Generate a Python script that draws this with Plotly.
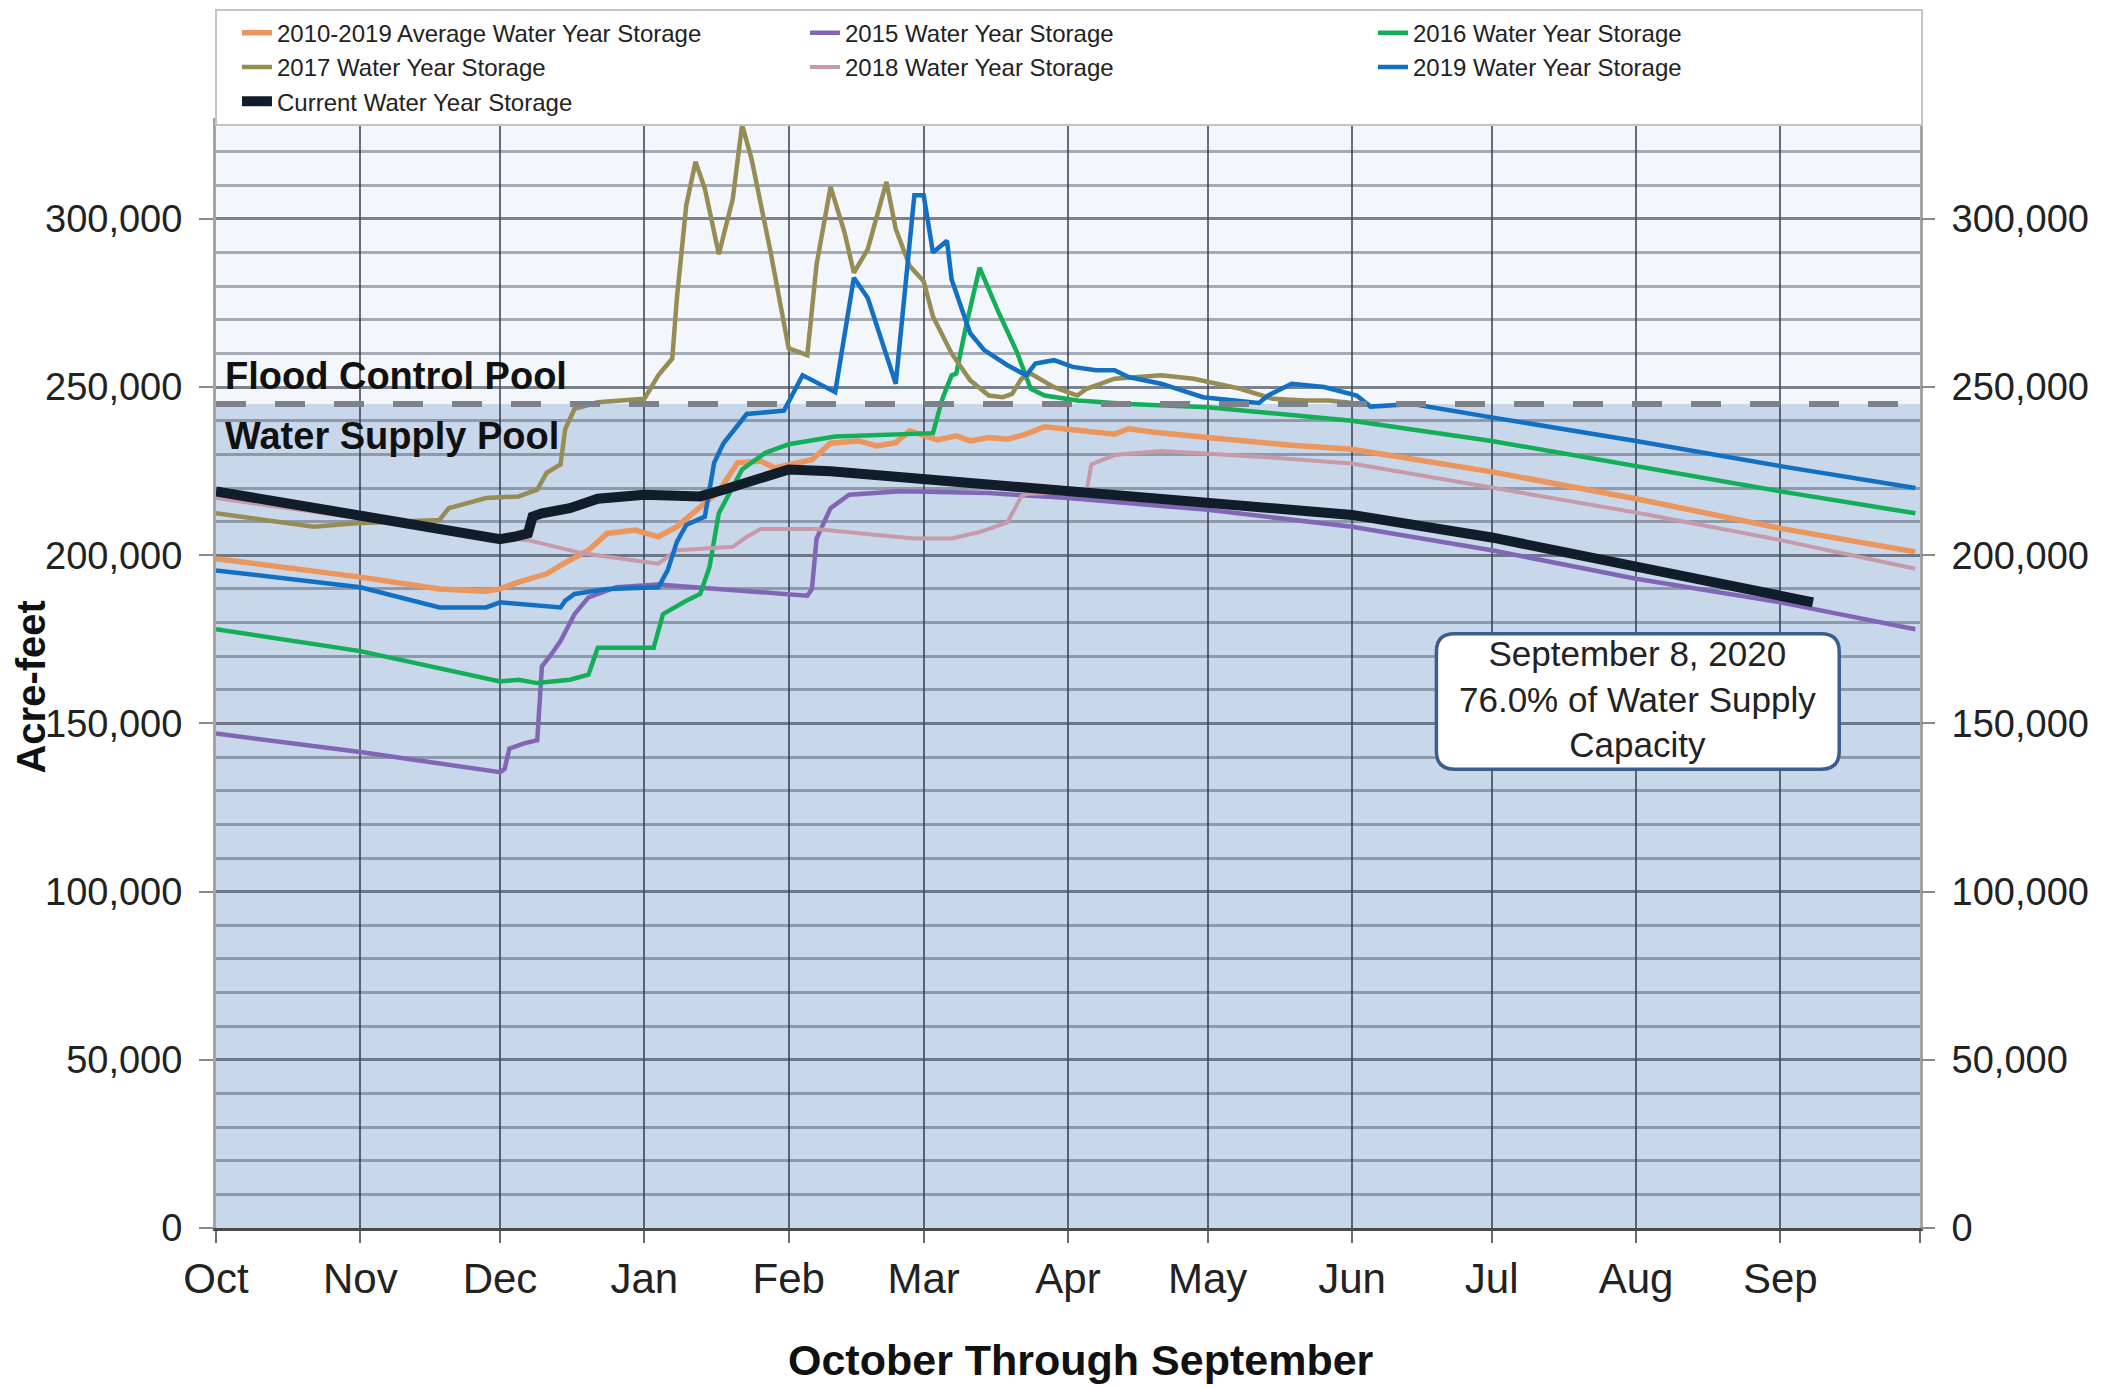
import plotly.graph_objects as go

# ---------------- data (water year Oct 2019 - Sep 2020) ----------------
month_ticks = ["10-01", "11-01", "12-01", "01-01", "02-01", "03-01", "04-01",
               "05-01", "06-01", "07-01", "08-01", "09-01", "10-01"]
month_labels = ["Oct", "Nov", "Dec", "Jan", "Feb", "Mar", "Apr", "May", "Jun",
                "Jul", "Aug", "Sep", ""]
y_ticks = [0, 50000, 100000, 150000, 200000, 250000, 300000]

flood_pool_level = 245000

avg_dates = ["10-01", "11-01", "11-18", "11-28", "12-01", "12-05", "12-11", "12-14",
             "12-20", "12-24", "12-30", "01-04", "01-08", "01-13", "01-17", "01-21",
             "01-26", "01-29", "02-06", "02-10", "02-16", "02-20", "02-24", "02-27",
             "03-04", "03-08", "03-11", "03-15", "03-19", "03-23", "03-27", "04-01",
             "04-07", "04-11", "04-14", "04-20", "05-01", "05-19", "06-01", "07-01",
             "08-01", "09-01", "09-30"]
avg_vals = [199000, 193500, 190000, 189300, 190000, 192000, 194500, 197000,
            201500, 206500, 207500, 205500, 208500, 214500, 219000, 227500,
            228000, 226000, 228400, 233300, 234000, 232500, 233500, 237000,
            234300, 235500, 234000, 235000, 234500, 236000, 238200, 237500,
            236500, 236000, 237600, 236500, 235000, 232700, 231500, 224800,
            216800, 208000, 201000]

y2015_dates = ["10-01", "11-01", "12-01", "12-02", "12-03", "12-06", "12-09", "12-10",
               "12-12", "12-14", "12-17", "12-20", "12-26", "01-04", "02-05", "02-06",
               "02-07", "02-10", "02-14", "02-25", "03-15", "04-01", "05-01", "06-01",
               "07-01", "08-01", "09-01", "09-30"]
y2015_vals = [147000, 141500, 135500, 136500, 142500, 144000, 145000, 167000,
              170500, 174500, 182500, 187500, 190500, 191300, 188000, 190000,
              205000, 214000, 218000, 219000, 218500, 217000, 213500, 208500,
              201500, 193000, 186000, 178000]

y2016_dates = ["10-01", "11-01", "12-01", "12-05", "12-09", "12-16", "12-20", "12-22",
               "01-03", "01-05", "01-10", "01-13", "01-15", "01-17", "01-22", "01-27",
               "02-01", "02-11", "03-03", "03-05", "03-07", "03-08", "03-10", "03-13",
               "03-17", "03-21", "03-24", "03-27", "04-03", "04-14", "05-01", "06-01",
               "07-01", "08-01", "09-01", "09-30"]
y2016_vals = [178000, 171500, 162500, 163000, 162000, 163000, 164500, 172500,
              172500, 182500, 186500, 188500, 196500, 212500, 225500, 230500,
              233000, 235300, 236300, 246500, 253500, 254000, 267500, 285500,
              272500, 260500, 249500, 247500, 246000, 245000, 244000, 240000,
              234000, 226500, 219000, 212500]

y2017_dates = ["10-01", "10-22", "10-31", "11-10", "11-18", "11-20", "11-28", "12-05",
               "12-09", "12-11", "12-14", "12-15", "12-17", "12-22", "01-01", "01-04",
               "01-07", "01-08", "01-10", "01-12", "01-14", "01-17", "01-20", "01-22",
               "01-24", "01-28", "02-01", "02-05", "02-07", "02-10", "02-13", "02-15",
               "02-18", "02-22", "02-24", "02-27", "03-01", "03-03", "03-07", "03-11",
               "03-15", "03-18", "03-20", "03-22", "03-24", "03-29", "04-03", "04-05",
               "04-11", "04-21", "04-28", "05-08", "05-15", "05-22", "05-27", "06-03"]
y2017_vals = [212500, 208500, 209500, 210000, 210500, 214000, 217000, 217500,
              219500, 224500, 227000, 237500, 243500, 245500, 246500, 253500,
              258500, 276500, 304000, 317000, 309000, 289500, 306000, 328000,
              318000, 291000, 261500, 259500, 286500, 309500, 296000, 284000,
              291000, 311000, 297000, 286000, 281500, 271000, 260000, 252000,
              247500, 247000, 248000, 252500, 254000, 250000, 247500, 249500,
              252500, 253500, 252500, 249500, 246500, 246000, 246000, 245000]

y2018_dates = ["10-01", "11-01", "12-01", "12-07", "12-19", "01-04", "01-08", "01-20",
               "01-23", "01-26", "02-07", "02-20", "02-28", "03-07", "03-13", "03-19",
               "03-22", "03-23", "04-05", "04-06", "04-11", "04-21", "05-12", "06-01",
               "07-01", "08-01", "09-01", "09-30"]
y2018_vals = [217000, 211000, 205200, 204500, 200500, 197500, 201500, 202500,
              205500, 207800, 207800, 206000, 205000, 205000, 206900, 209800,
              217600, 218200, 219000, 227000, 229800, 231000, 229300, 227300,
              220000, 212700, 204500, 196000]

y2019_dates = ["10-01", "11-01", "11-18", "11-28", "12-01", "12-14", "12-15", "12-17",
               "12-24", "01-04", "01-06", "01-08", "01-10", "01-14", "01-15", "01-16",
               "01-18", "01-23", "01-31", "02-04", "02-11", "02-15", "02-18", "02-24",
               "02-28", "03-01", "03-03", "03-06", "03-07", "03-11", "03-14", "03-19",
               "03-23", "03-25", "03-29", "04-02", "04-07", "04-11", "04-14", "04-21",
               "04-30", "05-12", "05-14", "05-19", "05-26", "06-02", "06-05", "06-10",
               "06-14", "07-01", "08-01", "09-01", "09-30"]
y2019_vals = [195500, 190500, 184500, 184500, 186000, 184500, 186500, 188500,
              190000, 190500, 195500, 204000, 209000, 211500, 219500, 227500,
              233300, 242000, 243000, 253500, 248500, 282500, 276500, 251000,
              307000, 307000, 290000, 293500, 282000, 266000, 261000, 256500,
              253500, 257000, 258000, 256000, 255000, 255000, 253000, 251000,
              247000, 245300, 247500, 251000, 250000, 247500, 244200, 244500,
              245000, 241000, 234000, 226500, 220000]

current_dates = ["10-01", "11-01", "12-01", "12-04", "12-07", "12-08", "12-10", "12-16",
                 "12-22", "01-01", "01-13", "01-18", "01-27", "02-01", "02-10", "03-01",
                 "04-01", "05-01", "05-15", "06-01", "07-01", "08-01", "09-01", "09-08"]
current_vals = [219000, 212000, 204800, 205500, 206500, 211500, 212500, 214000,
                216800, 218000, 217500, 219500, 223500, 225500, 225000, 222600,
                219300, 215500, 213500, 212000, 205300, 196500, 188000, 186000]

annotation_text = "September 8, 2020<br>76.0% of Water Supply<br>Capacity"


def wy(mmdd_list, last=False):
    out = []
    for i, s in enumerate(mmdd_list):
        m = int(s[:2])
        year = 2019 if m >= 10 else 2020
        if last and i == len(mmdd_list) - 1 and m == 10:
            year = 2020
        out.append(f"{year}-{s}")
    return out


FONT = "Liberation Sans, Arial, sans-serif"

series = [
    ("2010-2019 Average Water Year Storage", avg_dates, avg_vals, "#ea965c", 5.5),
    ("2015 Water Year Storage", y2015_dates, y2015_vals, "#8266b6", 4.5),
    ("2016 Water Year Storage", y2016_dates, y2016_vals, "#12ae58", 4.5),
    ("2017 Water Year Storage", y2017_dates, y2017_vals, "#968c56", 4.5),
    ("2018 Water Year Storage", y2018_dates, y2018_vals, "#c69aa9", 4),
    ("2019 Water Year Storage", y2019_dates, y2019_vals, "#1270c4", 4.5),
]

fig = go.Figure()
for name, d, v, c, w in series:
    fig.add_trace(go.Scatter(x=wy(d), y=v, mode="lines", name=name,
                             line=dict(color=c, width=w), yaxis="y"))
fig.add_trace(go.Scatter(x=wy(current_dates), y=current_vals, mode="lines",
                         name="Current Water Year Storage",
                         line=dict(color="#121d2c", width=10), yaxis="y2"))

x_start, x_end = "2019-10-01", "2020-10-01"
grid_h = "rgba(70,80,95,0.45)"

# the page body adds an 8px offset, so the figure is 8px smaller with shifted margins
fig.update_layout(
    width=2097, height=1380,
    margin=dict(l=208, r=185, t=110, b=160, autoexpand=False),
    paper_bgcolor="white",
    plot_bgcolor="#f3f6fa",
    font=dict(family=FONT, color="#222222"),
    showlegend=True,
    legend=dict(orientation="h", x=-0.0006, xanchor="left", y=1.0985, yanchor="top",
                entrywidth=503, entrywidthmode="pixels", indentation=20,
                bordercolor="#c4c4c4", borderwidth=2, bgcolor="white",
                font=dict(size=24, family=FONT, color="#222222"),
                tracegroupgap=0, traceorder="normal"),
    xaxis=dict(type="date", range=[x_start, x_end], automargin=False,
               tickmode="array", tickvals=wy(month_ticks, last=True), ticktext=month_labels,
               ticks="outside", ticklen=12, tickwidth=2, tickcolor="#6a6a6a",
               tickfont=dict(size=42, family=FONT, color="#222222"),
               showgrid=True, gridcolor="rgba(40,50,70,0.7)", gridwidth=1.5,
               showline=True, linecolor="#4a4a4a", linewidth=3, zeroline=False),
    yaxis=dict(range=[0, 330000], tickmode="array", tickvals=y_ticks, tickformat=",",
               automargin=False,
               ticks="outside", ticklen=14, tickwidth=2, tickcolor="#8a8a8a",
               ticklabelstandoff=9,
               tickfont=dict(size=38, family=FONT, color="#222222"),
               showgrid=True, gridcolor=grid_h, gridwidth=2.5,
               minor=dict(tickmode="linear", tick0=0, dtick=10000, showgrid=True,
                          gridcolor=grid_h, gridwidth=2.5, ticks=""),
               showline=True, linecolor="#a3a3a3", linewidth=3, mirror=True,
               zeroline=False),
    yaxis2=dict(range=[0, 330000], overlaying="y", side="right", tickmode="array",
                automargin=False,
                tickvals=y_ticks, tickformat=",", ticks="outside", ticklen=14,
                tickwidth=2, tickcolor="#8a8a8a", ticklabelstandoff=9,
                tickfont=dict(size=38, family=FONT, color="#222222"),
                showgrid=False, zeroline=False, showline=False),
)

# background pools
fig.add_shape(type="rect", xref="paper", yref="y", x0=0, x1=1, y0=0, y1=flood_pool_level,
              fillcolor="#c8d7ea", line=dict(width=0), layer="below")
# top border
fig.add_shape(type="line", xref="paper", yref="paper", x0=0, x1=1, y0=1, y1=1,
              line=dict(color="#a8a8a8", width=4), layer="above")
# flood pool dashed line
fig.add_shape(type="line", xref="paper", yref="y", x0=0, x1=1,
              y0=flood_pool_level, y1=flood_pool_level,
              line=dict(color="#7d8288", width=6, dash="30px,29px"), layer="above")

# rounded callout box
bx0, bx1 = 0.7162, 0.9526
by0, by1 = 136400, 176700
rx, ry = 0.0106, 5350
path = (f"M {bx0+rx},{by1} L {bx1-rx},{by1} Q {bx1},{by1} {bx1},{by1-ry} "
        f"L {bx1},{by0+ry} Q {bx1},{by0} {bx1-rx},{by0} L {bx0+rx},{by0} "
        f"Q {bx0},{by0} {bx0},{by0+ry} L {bx0},{by1-ry} Q {bx0},{by1} {bx0+rx},{by1} Z")
fig.add_shape(type="path", xref="paper", yref="y", path=path, fillcolor="white",
              line=dict(color="#3a5f8e", width=3.5), layer="above")

fig.add_annotation(xref="paper", yref="y", x=(bx0 + bx1) / 2, y=(by0 + by1) / 2 + 800,
                   xanchor="center", yanchor="middle",
                   text=annotation_text, showarrow=False, align="center",
                   font=dict(size=35, family=FONT, color="#222222"))

fig.add_annotation(xref="paper", yref="y", x=0.004, y=253300, xanchor="left",
                   yanchor="middle",
                   text="<b>Flood Control Pool</b>", showarrow=False,
                   font=dict(size=38, family=FONT, color="#111111"))
fig.add_annotation(xref="paper", yref="y", x=0.004, y=235500, xanchor="left",
                   yanchor="middle",
                   text="<b>Water Supply Pool</b>", showarrow=False,
                   font=dict(size=38, family=FONT, color="#111111"))

# axis titles
fig.add_annotation(xref="paper", yref="paper", x=0.5076, y=-0.1185,
                   xanchor="center", yanchor="middle",
                   text="<b>October Through September</b>", showarrow=False,
                   font=dict(size=43, family=FONT, color="#111111"))
fig.add_annotation(xref="paper", yref="paper", x=-0.1085, y=0.487, textangle=-90,
                   xanchor="center", yanchor="middle",
                   text="<b>Acre-feet</b>", showarrow=False,
                   font=dict(size=40, family=FONT, color="#111111"))

fig.write_html("out.html")
